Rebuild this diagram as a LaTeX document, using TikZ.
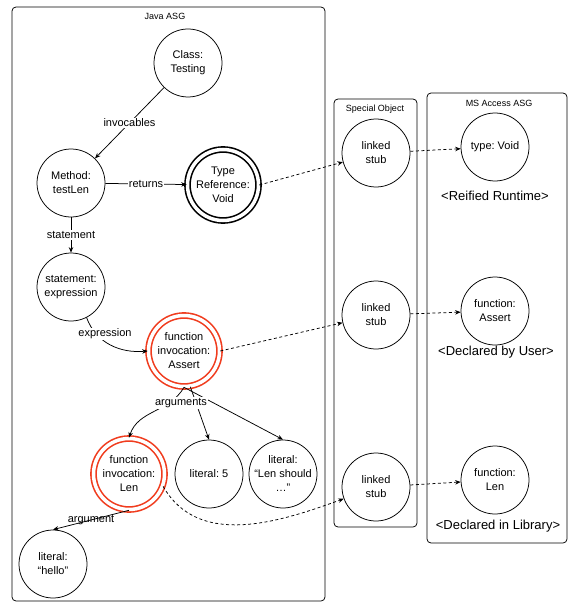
\documentclass[tikz,border=0pt]{standalone}
\usepackage{fontspec}
\setmainfont{Liberation Sans}
\usepackage{tikz}
\usetikzlibrary{arrows.meta}
\definecolor{invred}{HTML}{F03C1E}
\frenchspacing
\tikzset{%
    asg/.style={
		draw, shape=circle,
		minimum size=68pt, inner sep=0pt,
		align=center, line width=0.75pt
	}
}
\tikzset{ringed/.style={asg, double, double distance=3.5pt, line width=1.6pt, minimum size=71pt}}
\tikzset{link/.style={line width=0.75pt, -{Stealth[length=5.5pt,width=4.5pt]}}}
\tikzset{lbl/.style={fill=white, inner sep=1pt}}
\tikzset{container/.style={line width=0.75pt, rounded corners=4pt}}
\tikzset{boxtitle/.style={font=\fontsize{9}{11}\selectfont}}
\tikzset{note/.style={font=\fontsize{13}{15}\selectfont}}

\begin{document}
\begin{tikzpicture}[x=1pt, y=-1pt]
		% Default action for each node
		\tikzstyle{every node}=[font=\fontsize{11}{14}\selectfont];

		\useasboundingbox (0,0) rectangle (568,604);

		% the three containers
		\draw[container] (12,7) rectangle (325,601);
		\draw[container] (334,99) rectangle (417,527);
		\draw[container] (427,93) rectangle (567,543);
		\node[boxtitle] (javatitle) at (165,16) {Java ASG};
		\node[boxtitle] (stubtitle) at (375,109) {Special Object};
		\node[boxtitle] (accesstitle) at (499,103) {MS Access ASG};

		% Java ASG
		\node[asg] (cls) at (188,63) {Class:\\Testing};
		\node[asg] (meth) at (71,183) {Method:\\testLen};		\node[ringed] (typeref) at (223,185) {Type\\Reference:\\Void};
		\node[asg] (stmt) at (71,287) {statement:\\expression};
											\node[ringed, draw=invred] (assert) at (184,351) {function\\invocation:\\Assert};
		\node[ringed, draw=invred] (len) at (129,474) {function\\invocation:\\Len};	\node[asg] (lit5) at (209,474) {literal: 5};	\node[asg] (litmsg) at (283,474) {literal:\\“Len should\\…”};
		\node[asg] (hello) at (53,564) {literal:\\“hello”};

		% Special Object
		\node[asg] (stubvoid) at (376,153) {linked\\stub};
		\node[asg] (stubassert) at (376,315) {linked\\stub};
		\node[asg] (stublen) at (376,487) {linked\\stub};

		% MS Access ASG
		\node[asg] (tvoid) at (495,147) {type: Void};
		\node[note] (reified) at (495,196) {<Reified Runtime>};
		\node[asg] (fassert) at (495,311) {function:\\Assert};
		\node[note] (byuser) at (496,352) {<Declared by User>};
		\node[asg] (flen) at (495,480) {function:\\Len};
		\node[note] (inlib) at (498,526) {<Declared in Library>};

		\draw[link] (cls) -- node[lbl] (invlbl) {invocables} (meth);
		\draw[link] (meth) -- node[lbl] (retlbl) {returns} (typeref);
		\draw[link] (meth) -- node[lbl] (stmtlbl) {statement} (stmt);

		\draw[link] (stmt.-63) to[out=-70, in=185] (assert.west);
		\node[lbl] (exprlbl) at (105,334) {expression};

		\draw[link] (assert.south) to[out=-120, in=72] (len.north);
		\draw[link] (assert.-80) -- (lit5.north);
		\draw[link] (assert.south) -- (litmsg.north);
		\node[lbl] (arglbl) at (181,403) {arguments};

		\draw[link] (len.south) -- node[lbl, fill=none] (onearglbl) {argument} (hello.north);

		% links across the ASGs
		\draw[link, dash pattern=on 3pt off 2.5pt] (typeref.east) -- (stubvoid);
		\draw[link, dash pattern=on 3pt off 2.5pt] (stubvoid) -- (tvoid);
		\draw[link, dash pattern=on 3pt off 2.5pt] (assert.east) -- (stubassert);
		\draw[link, dash pattern=on 3pt off 2.5pt] (stubassert) -- (fassert);
		\draw[link, dash pattern=on 3pt off 2.5pt] (len.-20) to[out=-60, in=200] (stublen.200);
		\draw[link, dash pattern=on 3pt off 2.5pt] (stublen) -- (flen);

	\end{tikzpicture}
\end{document}
